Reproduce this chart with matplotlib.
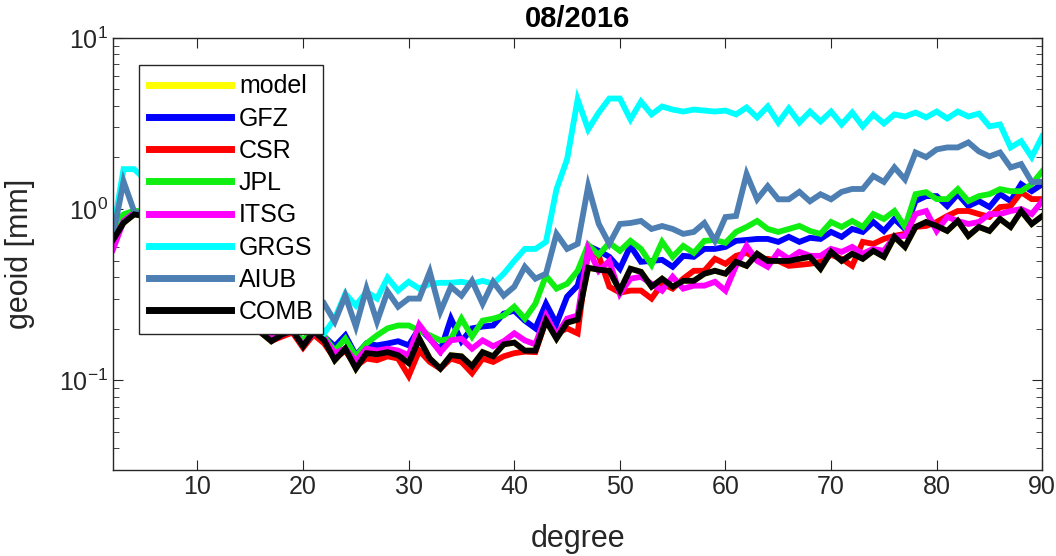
import numpy as np
import matplotlib
matplotlib.use('Agg')
import matplotlib.pyplot as plt
from matplotlib.ticker import LogLocator, NullFormatter

plt.rcParams['font.family'] = ['Liberation Sans', 'DejaVu Sans']
plt.rcParams['mathtext.fontset'] = 'custom'
plt.rcParams['mathtext.rm'] = 'Liberation Sans'
plt.rcParams['mathtext.it'] = 'Liberation Sans'

# spherical harmonic degree 2..90
degree = list(range(2, 91))

gfz = [.82, .92, .97, .95, .85, .75, .65, .55, .48, .42, .36, .31, .27, .24, .21, .185, .19, .20, .165, .20,
       .180, .158, .183, .140, .164, .160, .164, .169, .160, .201,
       .175, .149, .229, .169, .201, .206, .209, .245, .255, .223,
       .201, .280, .214, .308, .357, .609, .570, .526, .448, .609,
       .492, .498, .505, .460, .533, .526, .585, .585, .601, .652,
       .660, .669, .669, .643, .688, .643, .679, .669, .735, .688,
       .765, .735, .840, .745, .875, .765, 1.113, 1.190, 1.190, 1.041,
       1.222, 1.041, 1.113, 1.027, 1.222, 1.113, 1.397, 1.272, 1.397]

csr = [.67, .88, .95, .92, .82, .72, .62, .53, .46, .40, .35, .30, .26, .23, .20, .17, .18, .19, .155, .185,
       .164, .134, .149, .121, .134, .131, .138, .134, .106, .149,
       .128, .117, .134, .128, .110, .134, .128, .138, .144, .147,
       .146, .223, .188, .201, .188, .570, .533, .352, .325, .334,
       .334, .300, .366, .343, .392, .436, .436, .512, .479, .533,
       .555, .512, .512, .498, .466, .472, .479, .492, .541, .512,
       .466, .643, .626, .669, .697, .716, .786, .797, .840, .911,
       .974, .974, .935, .899, 1.027, 1.041, 1.255, 1.143, 1.143]

jpl = [.79, .93, .98, .96, .87, .77, .67, .57, .50, .44, .38, .33, .29, .25, .22, .18, .19, .20, .17, .20,
       .180, .149, .175, .138, .164, .183, .201, .209, .209, .195,
       .183, .171, .175, .229, .180, .223, .229, .239, .269, .229,
       .280, .408, .343, .366, .436, .617, .541, .635, .570, .652,
       .585, .472, .643, .526, .609, .555, .652, .660, .635, .735,
       .786, .852, .765, .735, .765, .797, .745, .716, .840, .786,
       .852, .786, .935, .875, .974, .786, 1.222, 1.255, 1.143, 1.143,
       1.307, 1.113, 1.190, 1.222, 1.307, 1.272, 1.272, 1.397, 1.663]

itsg = [.58, .85, .95, .93, .83, .73, .63, .54, .47, .41, .35, .30, .26, .23, .20, .175, .185, .195, .16, .19,
        .175, .144, .153, .129, .153, .149, .153, .149, .140, .211,
        .175, .146, .171, .175, .153, .171, .158, .169, .188, .171,
        .162, .239, .183, .229, .239, .585, .436, .498, .320, .392,
        .402, .366, .334, .402, .343, .357, .357, .376, .334, .466,
        .609, .498, .460, .562, .512, .562, .533, .533, .585, .562,
        .601, .548, .585, .570, .688, .697, .935, .974, .745, .899,
        .852, .818, .840, .935, .935, .974, 1.0, .935, 1.113]

grgs = [.735, 1.71, 1.71, 1.5, 1.3, 1.1, .95, .85, .75, .68, .6, .55, .5, .45, .42, .38, .35, .3, .27, .24,
        .188, .229, .320, .273, .329, .300, .397, .334, .376, .343,
        .366, .371, .371, .376, .366, .381, .366, .419, .498, .585,
        .585, .643, 1.307, 1.95, 4.36, 2.92, 3.66, 4.42, 4.42, 3.34,
        4.24, 3.57, 3.97, 3.81, 3.71, 3.81, 3.76, 3.71, 3.76, 3.57,
        3.92, 3.43, 3.97, 3.20, 3.87, 3.20, 3.71, 3.25, 3.71, 3.12,
        3.66, 3.04, 3.57, 3.16, 3.57, 3.47, 3.66, 3.43, 3.71, 3.38,
        3.71, 3.47, 3.61, 3.04, 3.12, 2.29, 2.49, 2.01, 2.66]

aiub = [.697, 1.45, .97, .9, .8, .7, .6, .55, .5, .45, .4, .38, .35, .33, .3, .3, .28, .27, .26, .25,
        .280, .220, .312, .206, .343, .220, .330, .269, .300, .300,
        .430, .252, .352, .312, .381, .280, .376, .312, .352, .460,
        .392, .419, .716, .585, .626, 1.36, .818, .626, .818, .829,
        .852, .765, .796, .765, .716, .735, .829, .652, .898, .911,
        1.60, 1.14, 1.36, 1.14, 1.14, 1.26, 1.11, 1.22, 1.14, 1.26,
        1.31, 1.31, 1.56, 1.44, 1.75, 1.49, 2.14, 2.01, 2.23, 2.29,
        2.29, 2.45, 2.17, 2.03, 2.14, 1.75, 1.83, 1.44, 1.44]

comb = [.66, .83, .93, .91, .81, .71, .61, .52, .45, .39, .34, .29, .25, .22, .19, .169, .185, .195, .158, .193,
        .171, .131, .153, .117, .144, .142, .146, .140, .126, .175,
        .134, .117, .140, .138, .121, .146, .138, .162, .166, .149,
        .149, .223, .175, .217, .226, .454, .442, .436, .334, .448,
        .430, .352, .392, .352, .381, .381, .419, .436, .419, .492,
        .466, .548, .498, .498, .498, .512, .526, .448, .562, .498,
        .548, .512, .570, .526, .688, .601, .786, .840, .797, .745,
        .852, .697, .786, .745, .875, .786, .974, .818, .911]

# model curve is completely hidden under the combination in the original
model = list(comb)

names = ['model', 'GFZ', 'CSR', 'JPL', 'ITSG', 'GRGS', 'AIUB', 'COMB']
series = [model, gfz, csr, jpl, itsg, grgs, aiub, comb]
colors = ['#ffff00', '#0000ff', '#ff0000', '#11ee11', '#ff00ff', '#00ffff', '#4d7fb3', '#000000']

fig = plt.figure(figsize=(10.56, 5.56), dpi=100)
ax = fig.add_axes([0.107, 0.155, 0.88, 0.777])

for name, vals, c in zip(names, series, colors):
    ax.plot(degree, vals, color=c, lw=4.2, label=name, solid_joinstyle='miter')

ax.set_yscale('log')
ax.set_xlim(2, 90)
ax.set_ylim(0.03, 10)
ax.set_xticks([10, 20, 30, 40, 50, 60, 70, 80, 90])
ax.yaxis.set_major_locator(LogLocator(base=10, numticks=10))
ax.yaxis.set_minor_locator(LogLocator(base=10, subs=np.arange(2, 10), numticks=20))
ax.yaxis.set_minor_formatter(NullFormatter())

grey = '#262626'
for s in ax.spines.values():
    s.set_color(grey)
    s.set_linewidth(1.0)
ax.tick_params(which='both', direction='in', top=True, right=True, colors=grey, labelsize=18)
ax.tick_params(which='major', length=7)
ax.tick_params(which='minor', length=4)

ax.set_xlabel('degree', fontsize=22, color=grey, labelpad=18)
ax.set_ylabel('geoid [mm]', fontsize=22, color=grey, labelpad=17)
ax.set_title('08/2016', fontsize=21, fontweight='bold', pad=8)

leg = ax.legend(loc='upper left', bbox_to_anchor=(0.028, 0.9375), borderaxespad=0,
                fontsize=18, handlelength=3.3, handletextpad=0.32, labelspacing=0.33,
                borderpad=0.38, fancybox=False, framealpha=1, edgecolor=grey)
leg.get_frame().set_linewidth(1.0)
for line in leg.get_lines():
    line.set_linewidth(5)

fig.savefig('out.png', dpi=100)
